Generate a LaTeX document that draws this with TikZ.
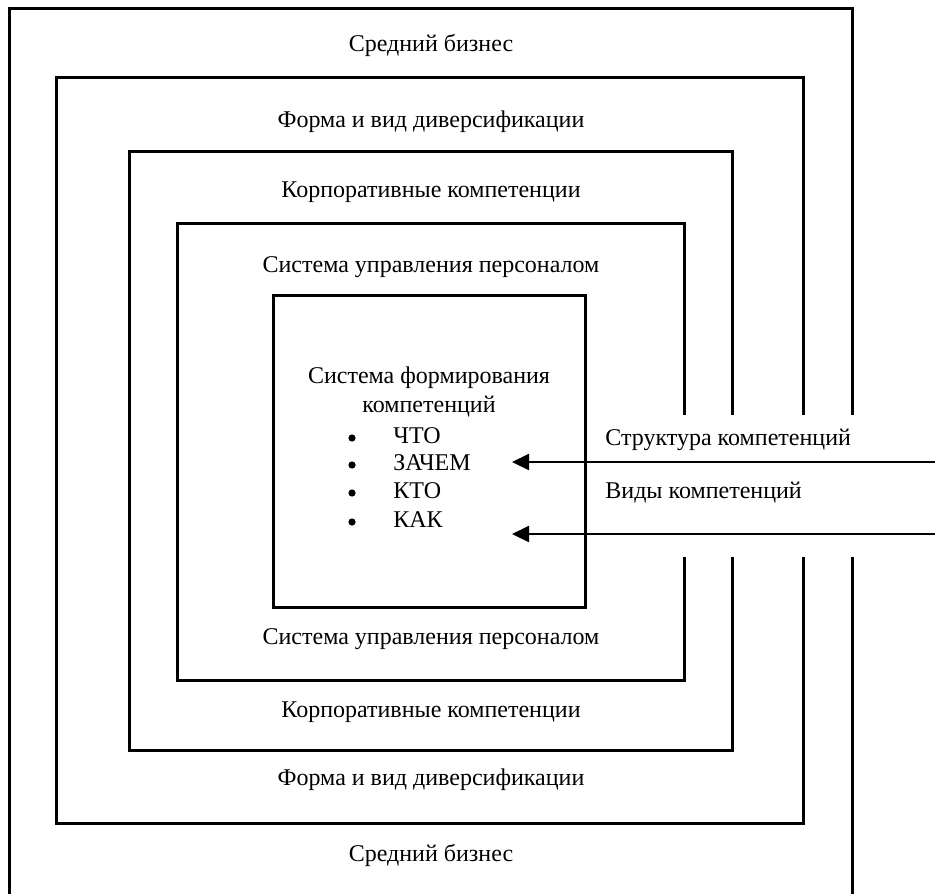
\documentclass[tikz,border=0pt]{standalone}
\usepackage{fontspec}
\setmainfont{Liberation Serif}
\usepackage{tikz}
\tikzstyle{frame} = [line width=1.5pt, line cap=rect]
\tikzstyle{txt} = [font=\fontsize{12}{14.5}\selectfont, inner sep=0pt]
\tikzstyle{dot} = [circle, fill, inner sep=0pt, minimum size=3.6pt]
\tikzstyle{feed} = [line width=1.1pt, -{Triangle[length=8.5pt,width=8pt]}]
\usetikzlibrary{arrows.meta}
\usetikzlibrary{positioning}

\begin{document}
\begin{tikzpicture}[x=0.5pt,y=-0.5pt]
    \useasboundingbox (0,0) rectangle (935,893);
    \clip (0,0) rectangle (935,893);

    % frames, open on the right where the arrows pass
    \draw[frame] (852,413) -- (852,9) -- (9,9) -- (9,900);
    \draw[frame] (852,558) -- (852,900);
    \draw[frame] (803,413) -- (803,78) -- (56,78) -- (56,823) -- (803,823) -- (803,558);
    \draw[frame] (732,413) -- (732,152) -- (129,152) -- (129,750) -- (732,750) -- (732,558);
    \draw[frame] (684,413) -- (684,223) -- (177,223) -- (177,680) -- (684,680) -- (684,558);
    \draw[frame] (273,295) rectangle (585,607);

    \node[txt] (biz top) at (431,45) {Средний бизнес};
    \node[txt] (biz bot) at (431,855) {Средний бизнес};
    \node[txt] (div top) at (431,122) {Форма и вид диверсификации};
    \node[txt] (div bot) at (431,780) {Форма и вид диверсификации};
    \node[txt] (corp top) at (431,192) {Корпоративные компетенции};
    \node[txt] (corp bot) at (431,712) {Корпоративные компетенции};
    \node[txt] (hr top) at (431,267) {Система управления персоналом};
    \node[txt] (hr bot) at (431,639) {Система управления персоналом};

    \node[txt, align=center] (core) at (429,392) {Система формирования\\компетенций};
    \node[txt, anchor=west] (what) at (393,436) {ЧТО};
    \node[txt, anchor=west] (why) at (393,463) {ЗАЧЕМ};
    \node[txt, anchor=west] (who) at (393,491) {КТО};
    \node[txt, anchor=west] (how) at (393,520) {КАК};
    \node[dot] (b1) at (352,438) {};
    \node[dot] (b2) at (352,465) {};
    \node[dot] (b3) at (352,493) {};
    \node[dot] (b4) at (352,522) {};

    \node[txt, anchor=west] (struct) at (605,440) {Структура компетенций};
    \node[txt, anchor=west] (kinds) at (605,493) {Виды компетенций};

    \coordinate (in1) at (940,462);
    \coordinate (tip1) at (512,462);
    \coordinate (in2) at (940,534);
    \coordinate (tip2) at (512,534);
    \draw[feed] (in1) -- (tip1);
    \draw[feed] (in2) -- (tip2);
\end{tikzpicture}
\end{document}
